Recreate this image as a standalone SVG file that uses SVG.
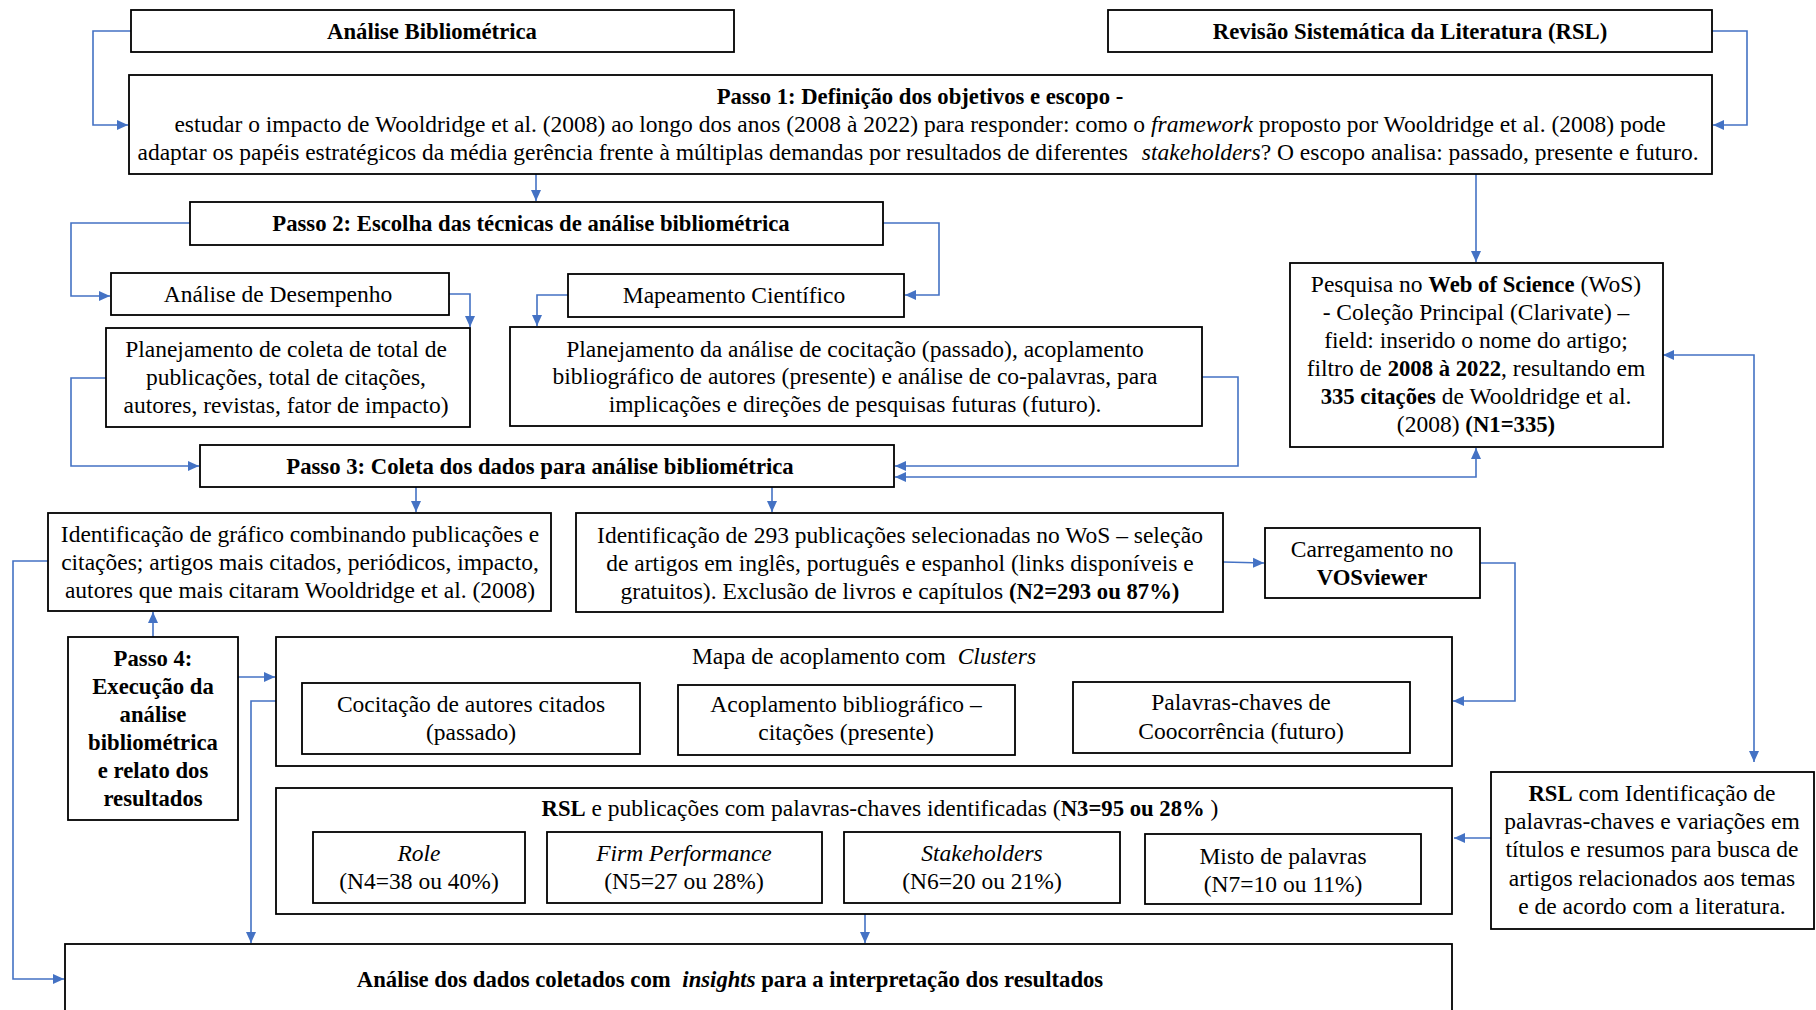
<svg xmlns="http://www.w3.org/2000/svg" width="1816" height="1010" viewBox="0 0 1816 1010">
  <style>
    .box { fill: #ffffff; stroke: #000000; stroke-width: 1.8; }
    .t { font-family: "Liberation Serif", "Times New Roman", serif; font-size: 23.5px; fill: #000000; text-anchor: middle; }
    .b { font-weight: bold; font-size: 22.7px; }
    .i { font-style: italic; }
    .link { fill: none; stroke: #4472C4; stroke-width: 1.6; }
  </style>
  <defs>
    <marker id="arrow" markerUnits="userSpaceOnUse" markerWidth="12" markerHeight="12" refX="11" refY="6" orient="auto-start-reverse">
      <path d="M0,1 L11,6 L0,11 Z" fill="#4472C4"/>
    </marker>
  </defs>

  <rect width="1816" height="1010" fill="#ffffff"/>

  <!-- connectors -->
  <g id="connectors">
    <polyline class="link" points="131,31 93,31 93,125 128,125" marker-end="url(#arrow)"/>
    <polyline class="link" points="1712,31 1747,31 1747,125 1713,125" marker-end="url(#arrow)"/>
    <line class="link" x1="536" y1="174" x2="536" y2="201" marker-end="url(#arrow)"/>
    <line class="link" x1="1476" y1="174" x2="1476" y2="262" marker-end="url(#arrow)"/>
    <polyline class="link" points="190,223 71,223 71,296 110,296" marker-end="url(#arrow)"/>
    <polyline class="link" points="883,223 939,223 939,295 905,295" marker-end="url(#arrow)"/>
    <polyline class="link" points="449,294 470,294 470,327" marker-end="url(#arrow)"/>
    <polyline class="link" points="568,295 537,295 537,326" marker-end="url(#arrow)"/>
    <polyline class="link" points="106,378 71,378 71,466 199,466" marker-end="url(#arrow)"/>
    <polyline class="link" points="1202,377 1238,377 1238,466 895,466" marker-end="url(#arrow)"/>
    <polyline class="link" points="1476,448 1476,477 895,477" marker-start="url(#arrow)" marker-end="url(#arrow)"/>
    <line class="link" x1="416" y1="487" x2="416" y2="512" marker-end="url(#arrow)"/>
    <line class="link" x1="772" y1="487" x2="772" y2="512" marker-end="url(#arrow)"/>
    <line class="link" x1="1223" y1="562" x2="1264" y2="563" marker-end="url(#arrow)"/>
    <polyline class="link" points="1480,563 1515,563 1515,701 1453,701" marker-end="url(#arrow)"/>
    <polyline class="link" points="1663,355 1754,355 1754,762" marker-start="url(#arrow)" marker-end="url(#arrow)"/>
    <line class="link" x1="1491" y1="838" x2="1454" y2="838" marker-end="url(#arrow)"/>
    <line class="link" x1="153" y1="637" x2="153" y2="612" marker-end="url(#arrow)"/>
    <line class="link" x1="238" y1="677" x2="275" y2="677" marker-end="url(#arrow)"/>
    <polyline class="link" points="276,701 251,701 251,943" marker-end="url(#arrow)"/>
    <polyline class="link" points="48,561 13,561 13,979 64,979" marker-end="url(#arrow)"/>
    <line class="link" x1="865" y1="914" x2="865" y2="943" marker-end="url(#arrow)"/>
  </g>

  <!-- header boxes -->
  <g id="analise-bibliometrica">
    <rect class="box" x="131" y="10" width="603" height="42"/>
    <text class="t b" x="432" y="39">Análise Bibliométrica</text>
  </g>
  <g id="rsl">
    <rect class="box" x="1108" y="10" width="604" height="42"/>
    <text class="t b" x="1410" y="39">Revisão Sistemática da Literatura (RSL)</text>
  </g>

  <!-- step 1 -->
  <g id="passo1">
    <rect class="box" x="129" y="75" width="1583" height="99"/>
    <text class="t b" x="920" y="104">Passo 1: Definição dos objetivos e escopo -</text>
    <text class="t" x="920" y="132">estudar o impacto de Wooldridge et al. (2008) ao longo dos anos (2008 à 2022) para responder: como o <tspan class="i">framework</tspan> proposto por Wooldridge et al. (2008) pode</text>
    <text class="t" x="918" y="160">adaptar os papéis estratégicos da média gerência frente à múltiplas demandas por resultados de diferentes <tspan class="i" dx="8">stakeholders</tspan>? O escopo analisa: passado, presente e futuro.</text>
  </g>

  <!-- step 2 -->
  <g id="passo2">
    <rect class="box" x="190" y="202" width="693" height="43"/>
    <text class="t b" x="531" y="231">Passo 2: Escolha das técnicas de análise bibliométrica</text>
  </g>
  <g id="analise-desempenho">
    <rect class="box" x="111" y="273" width="338" height="42"/>
    <text class="t" x="278" y="302">Análise de Desempenho</text>
  </g>
  <g id="mapeamento-cientifico">
    <rect class="box" x="568" y="274" width="336" height="43"/>
    <text class="t" x="734" y="303">Mapeamento Científico</text>
  </g>
  <g id="planejamento-coleta">
    <rect class="box" x="106" y="328" width="364" height="99"/>
    <text class="t" x="286" y="357">Planejamento de coleta de total de</text>
    <text class="t" x="286" y="385">publicações, total de citações,</text>
    <text class="t" x="286" y="413">autores, revistas, fator de impacto)</text>
  </g>
  <g id="planejamento-analise">
    <rect class="box" x="510" y="327" width="692" height="99"/>
    <text class="t" x="855" y="357">Planejamento da análise de cocitação (passado), acoplamento</text>
    <text class="t" x="855" y="384">bibliográfico de autores (presente) e análise de co-palavras, para</text>
    <text class="t" x="855" y="412">implicações e direções de pesquisas futuras (futuro).</text>
  </g>

  <!-- WoS search -->
  <g id="pesquisa-wos">
    <rect class="box" x="1290" y="263" width="373" height="184"/>
    <text class="t" x="1476" y="292">Pesquisa no <tspan class="b">Web of Science</tspan> (WoS)</text>
    <text class="t" x="1476" y="320">- Coleção Principal (Clarivate) –</text>
    <text class="t" x="1476" y="348">field: inserido o nome do artigo;</text>
    <text class="t" x="1476" y="376">filtro de <tspan class="b">2008 à 2022</tspan>, resultando em</text>
    <text class="t" x="1476" y="404"><tspan class="b">335 citações</tspan> de Wooldridge et al.</text>
    <text class="t" x="1476" y="432">(2008)  <tspan class="b">(N1=335)</tspan></text>
  </g>

  <!-- step 3 -->
  <g id="passo3">
    <rect class="box" x="200" y="445" width="694" height="42"/>
    <text class="t b" x="540" y="474">Passo 3: Coleta dos dados para análise bibliométrica</text>
  </g>
  <g id="identificacao-grafico">
    <rect class="box" x="48" y="513" width="503" height="98"/>
    <text class="t" x="300" y="542">Identificação de gráfico combinando publicações e</text>
    <text class="t" x="300" y="570">citações; artigos mais citados, periódicos, impacto,</text>
    <text class="t" x="300" y="598">autores que mais citaram Wooldridge et al. (2008)</text>
  </g>
  <g id="identificacao-293">
    <rect class="box" x="576" y="513" width="647" height="99"/>
    <text class="t" x="900" y="543">Identificação de 293 publicações selecionadas no WoS – seleção</text>
    <text class="t" x="900" y="571">de artigos em inglês, português e espanhol (links disponíveis e</text>
    <text class="t" x="900" y="599">gratuitos). Exclusão de livros e capítulos <tspan class="b">(N2=293 ou 87%)</tspan></text>
  </g>
  <g id="vosviewer">
    <rect class="box" x="1265" y="528" width="215" height="70"/>
    <text class="t" x="1372" y="557">Carregamento no</text>
    <text class="t b" x="1372" y="585">VOSviewer</text>
  </g>

  <!-- step 4 -->
  <g id="passo4">
    <rect class="box" x="68" y="637" width="170" height="183"/>
    <text class="t b" x="153" y="666">Passo 4:</text>
    <text class="t b" x="153" y="694">Execução da</text>
    <text class="t b" x="153" y="722">análise</text>
    <text class="t b" x="153" y="750">bibliométrica</text>
    <text class="t b" x="153" y="778">e relato dos</text>
    <text class="t b" x="153" y="806">resultados</text>
  </g>
  <g id="mapa-acoplamento">
    <rect class="box" x="276" y="637" width="1176" height="129"/>
    <text class="t" x="864" y="664">Mapa de acoplamento com <tspan class="i" dx="6">Clusters</tspan></text>
  </g>
  <g id="cocitacao">
    <rect class="box" x="302" y="683" width="338" height="71"/>
    <text class="t" x="471" y="712">Cocitação de autores citados</text>
    <text class="t" x="471" y="740">(passado)</text>
  </g>
  <g id="acoplamento">
    <rect class="box" x="678" y="685" width="337" height="70"/>
    <text class="t" x="846" y="712">Acoplamento bibliográfico –</text>
    <text class="t" x="846" y="740">citações (presente)</text>
  </g>
  <g id="palavras-chaves">
    <rect class="box" x="1073" y="682" width="337" height="71"/>
    <text class="t" x="1241" y="710">Palavras-chaves de</text>
    <text class="t" x="1241" y="739">Coocorrência (futuro)</text>
  </g>
  <g id="rsl-publicacoes">
    <rect class="box" x="276" y="788" width="1176" height="126"/>
    <text class="t" x="880" y="816"><tspan class="b">RSL</tspan> e publicações com palavras-chaves identificadas (<tspan class="b">N3=95 ou 28%</tspan>  )</text>
  </g>
  <g id="role">
    <rect class="box" x="313" y="832" width="212" height="71"/>
    <text class="t i" x="419" y="861">Role</text>
    <text class="t" x="419" y="889">(N4=38 ou 40%)</text>
  </g>
  <g id="firm-performance">
    <rect class="box" x="547" y="832" width="275" height="71"/>
    <text class="t i" x="684" y="861">Firm Performance</text>
    <text class="t" x="684" y="889">(N5=27 ou 28%)</text>
  </g>
  <g id="stakeholders">
    <rect class="box" x="844" y="832" width="276" height="71"/>
    <text class="t i" x="982" y="861">Stakeholders</text>
    <text class="t" x="982" y="889">(N6=20 ou 21%)</text>
  </g>
  <g id="misto">
    <rect class="box" x="1145" y="834" width="276" height="70"/>
    <text class="t" x="1283" y="864">Misto de palavras</text>
    <text class="t" x="1283" y="892">(N7=10 ou 11%)</text>
  </g>
  <g id="rsl-identificacao">
    <rect class="box" x="1491" y="772" width="323" height="157"/>
    <text class="t" x="1652" y="801"><tspan class="b">RSL</tspan> com Identificação de</text>
    <text class="t" x="1652" y="829">palavras-chaves e variações em</text>
    <text class="t" x="1652" y="857">títulos e resumos para busca de</text>
    <text class="t" x="1652" y="886">artigos relacionados aos temas</text>
    <text class="t" x="1652" y="914">e de acordo com a literatura.</text>
  </g>

  <!-- results -->
  <g id="analise-dados">
    <rect class="box" x="65" y="944" width="1387" height="80"/>
    <text class="t b" x="730" y="987">Análise dos dados coletados com <tspan class="i" dx="6">insights</tspan> para a interpretação dos resultados</text>
  </g>
</svg>
